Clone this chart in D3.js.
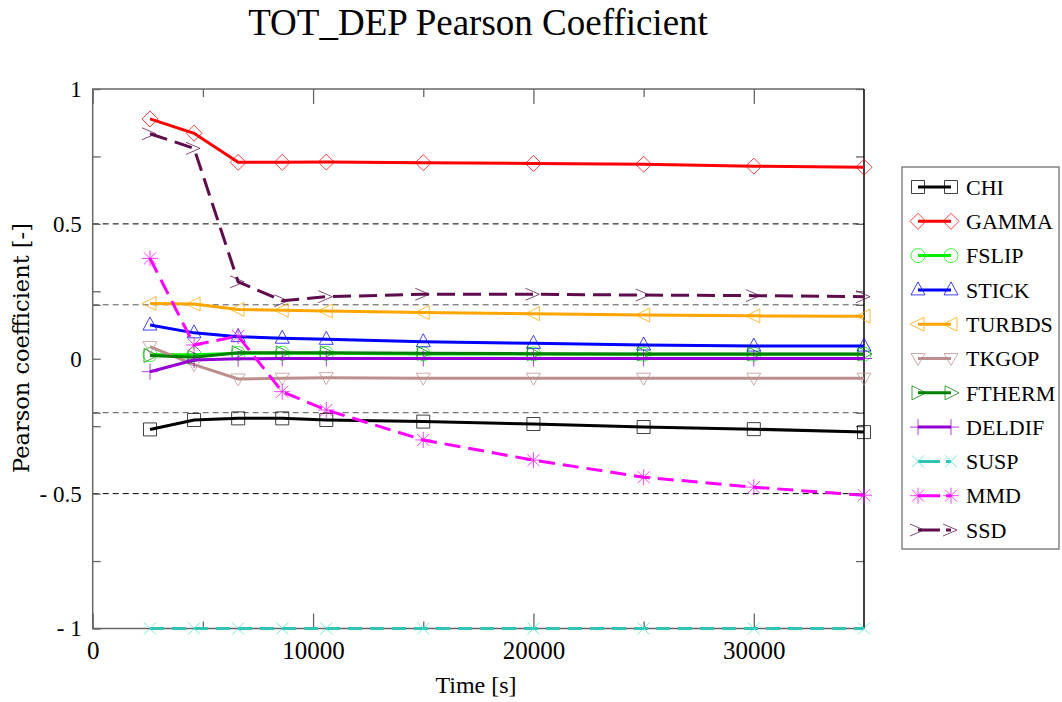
<!DOCTYPE html>
<html>
<head>
<meta charset="utf-8">
<script src="https://cdn.jsdelivr.net/npm/d3@7"></script>
<style>
  html, body { margin: 0; padding: 0; background: #fff; }
  svg { display: block; }
</style>
</head>
<body>
<svg id="chart" width="1062" height="702"></svg>
<script>
// ---------- data ----------
const times = [2600, 4600, 6600, 8600, 10600, 15000, 20000, 25000, 30000, 35000];
const seriesNames = ["CHI", "GAMMA", "FSLIP", "STICK", "TURBDS", "TKGOP", "FTHERM", "DELDIF", "SUSP", "MMD", "SSD"];
const chi    = [-0.262, -0.227, -0.221, -0.221, -0.227, -0.233, -0.242, -0.253, -0.261, -0.272];
const gamma  = [0.889, 0.836, 0.728, 0.728, 0.729, 0.727, 0.724, 0.721, 0.714, 0.710];
const fslip  = [0.015, 0.015, 0.020, 0.020, 0.020, 0.018, 0.018, 0.017, 0.017, 0.017];
const stick  = [0.125, 0.096, 0.082, 0.076, 0.072, 0.063, 0.057, 0.051, 0.047, 0.047];
const turbds = [0.205, 0.203, 0.183, 0.180, 0.177, 0.171, 0.167, 0.162, 0.159, 0.158];
const tkgop  = [0.045, -0.022, -0.075, -0.072, -0.070, -0.072, -0.072, -0.072, -0.072, -0.072];
const ftherm = [0.012, 0.006, 0.022, 0.022, 0.022, 0.020, 0.019, 0.018, 0.018, 0.018];
const deldif = [-0.048, -0.005, 0.000, 0.001, 0.001, 0.001, 0.001, 0.001, 0.001, 0.001];
const susp   = [-1, -1, -1, -1, -1, -1, -1, -1, -1, -1];
const mmd    = [0.372, 0.051, 0.084, -0.122, -0.190, -0.301, -0.376, -0.439, -0.476, -0.506];
const ssd    = [0.834, 0.780, 0.285, 0.215, 0.230, 0.239, 0.239, 0.236, 0.234, 0.230];

const xMajorTicks = [0, 10000, 20000, 30000];
const xMinorTicks = [5000, 15000, 25000];
const yMajorTicks = [-1, -0.5, 0, 0.5, 1];
const yMinorTicks = [-0.75, -0.25, -0.2, 0.2, 0.25, 0.75];
const refLines = [0.5, 0.2, -0.2, -0.5];

const titleText = "TOT_DEP Pearson Coefficient";
const xLabel = "Time [s]";
const yLabel = "Pearson coefficient [-]";

// ---------- styles ----------
const SERIF = "'Liberation Serif', 'Times New Roman', Times, serif";
const DSERIF = "'DejaVu Serif', serif";
const styles = {
  CHI:    { color: "#000000", marker: "square",   dash: null },
  GAMMA:  { color: "#ff0000", marker: "diamond",  dash: null },
  FSLIP:  { color: "#00ee00", marker: "circle",   dash: null },
  STICK:  { color: "#0000ff", marker: "triUp",    dash: null },
  TURBDS: { color: "#ffa500", marker: "triLeft",  dash: null },
  TKGOP:  { color: "#bc8f8f", marker: "triDown",  dash: null },
  FTHERM: { color: "#008000", marker: "triRight", dash: null },
  DELDIF: { color: "#9400d3", marker: "plus",     dash: null },
  SUSP:   { color: "#2fc4b4", marker: "cross",    dash: "14,8", markerColor: "#40e0d0" },
  MMD:    { color: "#ff00ff", marker: "asterisk", dash: "16,8" },
  SSD:    { color: "#5e0c4c", marker: "chevron",  dash: "18,8" }
};
const values = { CHI: chi, GAMMA: gamma, FSLIP: fslip, STICK: stick, TURBDS: turbds, TKGOP: tkgop,
  FTHERM: ftherm, DELDIF: deldif, SUSP: susp, MMD: mmd, SSD: ssd };

const markerPaths = {
  square:   "M-6.5,-6.5H6.5V6.5H-6.5Z",
  diamond:  "M0,-8L8,0L0,8L-8,0Z",
  circle:   "M7,0A7,7 0 1,1 -7,0A7,7 0 1,1 7,0Z",
  triUp:    "M0,-8L7,5L-7,5Z",
  triLeft:  "M-8,0L6,-7L6,7Z",
  triDown:  "M0,7L7,-5L-7,-5Z",
  triRight: "M8,0L-6,-7L-6,7Z",
  plus:     "M-8,0H8M0,-8V8",
  cross:    "M-6,-6L6,6M-6,6L6,-6",
  asterisk: "M-8,0H8M0,-8V8M-6,-6L6,6M-6,6L6,-6",
  chevron:  "M-8,-6L6,0L-8,6"
};

// ---------- layout ----------
const svg = d3.select("#chart");
const L = 92.7, R = 864, T = 89, B = 628.5;
const x = d3.scaleLinear().domain([0, 35000]).range([L, R]);
const y = d3.scaleLinear().domain([-1, 1]).range([B, T]);
const fmtY = v => v < 0 ? "- " + Math.abs(v) : String(v);

// title
svg.append("text").attr("x", 478).attr("y", 35).attr("text-anchor", "middle")
  .attr("font-family", SERIF).attr("font-size", 37).text(titleText);

// reference dashed lines
svg.append("g").selectAll("line").data(refLines).join("line")
  .attr("x1", L).attr("x2", R).attr("y1", d => y(d)).attr("y2", d => y(d))
  .attr("stroke", d => Math.abs(d) === 0.5 ? "#000" : "#555")
  .attr("stroke-width", 1).attr("stroke-dasharray", "6,4");

// axes
const axisColor = "#666";
function styleAxis(g, fontSize) {
  g.attr("font-family", SERIF).attr("font-size", fontSize || 10);
  g.select(".domain").remove();
  g.selectAll(".tick line").attr("stroke", axisColor).attr("stroke-width", 1.3);
  if (!fontSize) g.selectAll(".tick text").remove();
  else g.selectAll(".tick text").attr("fill", "#000");
}
// bottom
svg.append("g").attr("transform", `translate(0,${B})`)
  .call(d3.axisBottom(x).tickValues(xMajorTicks).tickSizeInner(-15).tickSizeOuter(0).tickPadding(13).tickFormat(d3.format("d")))
  .call(g => styleAxis(g, 25));
svg.append("g").attr("transform", `translate(0,${B})`)
  .call(d3.axisBottom(x).tickValues(xMinorTicks).tickSizeInner(-7).tickSizeOuter(0).tickFormat(""))
  .call(g => styleAxis(g, 0));
// top
svg.append("g").attr("transform", `translate(0,${T})`)
  .call(d3.axisTop(x).tickValues(xMajorTicks).tickSizeInner(-15).tickSizeOuter(0).tickFormat(""))
  .call(g => styleAxis(g, 0));
svg.append("g").attr("transform", `translate(0,${T})`)
  .call(d3.axisTop(x).tickValues(xMinorTicks).tickSizeInner(-8).tickSizeOuter(0).tickFormat(""))
  .call(g => styleAxis(g, 0));
// left
svg.append("g").attr("transform", `translate(${L},0)`)
  .call(d3.axisLeft(y).tickValues(yMajorTicks).tickSizeInner(-8).tickSizeOuter(0).tickPadding(11).tickFormat(fmtY))
  .call(g => styleAxis(g, 23));
svg.append("g").attr("transform", `translate(${L},0)`)
  .call(d3.axisLeft(y).tickValues(yMinorTicks).tickSizeInner(-8).tickSizeOuter(0).tickFormat(""))
  .call(g => styleAxis(g, 0));
// right
svg.append("g").attr("transform", `translate(${R},0)`)
  .call(d3.axisRight(y).tickValues(yMajorTicks.concat(yMinorTicks)).tickSizeInner(-8).tickSizeOuter(0).tickFormat(""))
  .call(g => styleAxis(g, 0));

// frame
svg.append("path").attr("d", `M${R},${T}H${L}V${B}H${R}`).attr("fill", "none").attr("stroke", axisColor).attr("stroke-width", 1.5);
svg.append("line").attr("x1", R).attr("x2", R).attr("y1", T).attr("y2", B).attr("stroke", "#000").attr("stroke-width", 1.5);

// axis labels
svg.append("text").attr("x", 476).attr("y", 693).attr("text-anchor", "middle")
  .attr("font-family", SERIF).attr("font-size", 24).text(xLabel);
svg.append("text").attr("transform", "translate(29,348) rotate(-90)").attr("text-anchor", "middle")
  .attr("font-family", DSERIF).attr("font-size", 22.5).text(yLabel);

// series
const line = d3.line().x(d => x(d[0])).y(d => y(d[1]));
const plot = svg.append("g");
seriesNames.forEach(name => {
  const st = styles[name];
  const pts = times.map((t, i) => [t, values[name][i]]);
  const g = plot.append("g");
  g.append("path").attr("d", line(pts)).attr("fill", "none").attr("stroke", st.color)
    .attr("stroke-width", 3).attr("stroke-dasharray", st.dash);
  g.selectAll("path.m").data(pts).join("path").attr("class", "m")
    .attr("transform", d => `translate(${x(d[0])},${y(d[1])})`)
    .attr("d", markerPaths[st.marker]).attr("fill", "none")
    .attr("stroke", st.markerColor || st.color).attr("stroke-width", 1).attr("stroke-opacity", 0.75);
});

// legend
const lg = svg.append("g");
lg.append("rect").attr("x", 902).attr("y", 167).attr("width", 157).attr("height", 382)
  .attr("fill", "#fff").attr("stroke", "#666").attr("stroke-width", 1.2);
const ly = d3.scalePoint().domain(seriesNames).range([187, 530]);
seriesNames.forEach(name => {
  const st = styles[name];
  const yy = ly(name);
  lg.append("line").attr("x1", 918).attr("x2", 951).attr("y1", yy).attr("y2", yy)
    .attr("stroke", st.color).attr("stroke-width", 3).attr("stroke-dasharray", st.dash ? "22,6" : null);
  [918, 951].forEach(mx => {
    lg.append("path").attr("transform", `translate(${mx},${yy})`).attr("d", markerPaths[st.marker])
      .attr("fill", "none").attr("stroke", st.markerColor || st.color).attr("stroke-width", 1).attr("stroke-opacity", 0.75);
  });
  lg.append("text").attr("x", 966).attr("y", yy).attr("dy", "0.35em")
    .attr("font-family", SERIF).attr("font-size", 22).text(name);
});
</script>
</body>
</html>
